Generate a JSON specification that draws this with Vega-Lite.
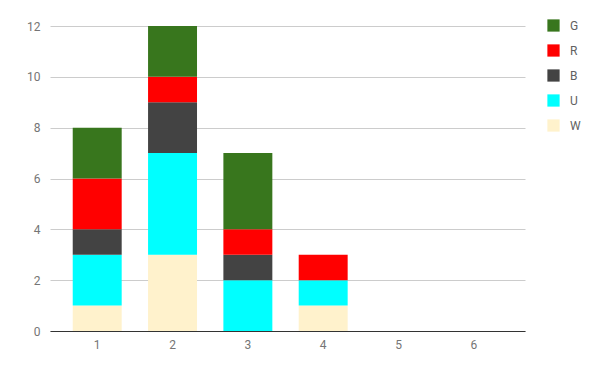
{
  "$schema": "https://vega.github.io/schema/vega-lite/v6.json",
  "width": 475,
  "height": 305,
  "autosize": {"type": "none"},
  "padding": {"left": 50, "top": 26, "right": 75, "bottom": 40},
  "config": {
    "font": "Roboto",
    "view": {"stroke": null},
    "axis": {"labelFont": "Roboto", "labelColor": "#757575", "labelFontSize": 12, "titleFont": "Roboto"},
    "axisX": {"labelColor": "#757575"},
    "axisY": {"labelColor": "#757575"},
    "legend": {"labelFont": "Roboto", "labelColor": "#616161", "labelFontSize": 12}
  },
  "data": {
    "values": [
      {"n": "1", "c": "W", "o": 1, "v": 1}, {"n": "1", "c": "U", "o": 2, "v": 2}, {"n": "1", "c": "B", "o": 3, "v": 1}, {"n": "1", "c": "R", "o": 4, "v": 2}, {"n": "1", "c": "G", "o": 5, "v": 2},
      {"n": "2", "c": "W", "o": 1, "v": 3}, {"n": "2", "c": "U", "o": 2, "v": 4}, {"n": "2", "c": "B", "o": 3, "v": 2}, {"n": "2", "c": "R", "o": 4, "v": 1}, {"n": "2", "c": "G", "o": 5, "v": 2},
      {"n": "3", "c": "W", "o": 1, "v": 0}, {"n": "3", "c": "U", "o": 2, "v": 2}, {"n": "3", "c": "B", "o": 3, "v": 1}, {"n": "3", "c": "R", "o": 4, "v": 1}, {"n": "3", "c": "G", "o": 5, "v": 3},
      {"n": "4", "c": "W", "o": 1, "v": 1}, {"n": "4", "c": "U", "o": 2, "v": 1}, {"n": "4", "c": "B", "o": 3, "v": 0}, {"n": "4", "c": "R", "o": 4, "v": 1}, {"n": "4", "c": "G", "o": 5, "v": 0},
      {"n": "5", "c": "W", "o": 1, "v": 0}, {"n": "5", "c": "U", "o": 2, "v": 0}, {"n": "5", "c": "B", "o": 3, "v": 0}, {"n": "5", "c": "R", "o": 4, "v": 0}, {"n": "5", "c": "G", "o": 5, "v": 0},
      {"n": "6", "c": "W", "o": 1, "v": 0}, {"n": "6", "c": "U", "o": 2, "v": 0}, {"n": "6", "c": "B", "o": 3, "v": 0}, {"n": "6", "c": "R", "o": 4, "v": 0}, {"n": "6", "c": "G", "o": 5, "v": 0}
    ]
  },
  "layer": [
    {
      "mark": {"type": "bar"},
      "encoding": {
        "x": {
          "field": "n", "type": "ordinal",
          "scale": {"paddingInner": 0.35, "paddingOuter": 0.328, "align": 0.46},
          "axis": {"title": null, "labelAngle": 0, "ticks": false, "domainColor": "#333333", "domainWidth": 1, "labelPadding": 8}
        },
        "y": {
          "field": "v", "type": "quantitative", "stack": "zero",
          "scale": {"domain": [0, 12]},
          "axis": {"title": null, "values": [0, 2, 4, 6, 8, 10, 12], "domain": false, "ticks": false, "gridColor": "#cccccc", "labelPadding": 10}
        },
        "color": {
          "field": "c", "type": "nominal",
          "scale": {"domain": ["G", "R", "B", "U", "W"], "range": ["#38761d", "#ff0000", "#434343", "#00ffff", "#fff2cc"]},
          "legend": {"title": null, "orient": "none", "legendX": 497, "legendY": -7, "padding": 0, "symbolType": "square", "symbolSize": 150, "symbolStrokeWidth": 0, "rowPadding": 12, "labelOffset": 10}
        },
        "order": {"field": "o", "type": "quantitative"}
      }
    }
  ]
}
